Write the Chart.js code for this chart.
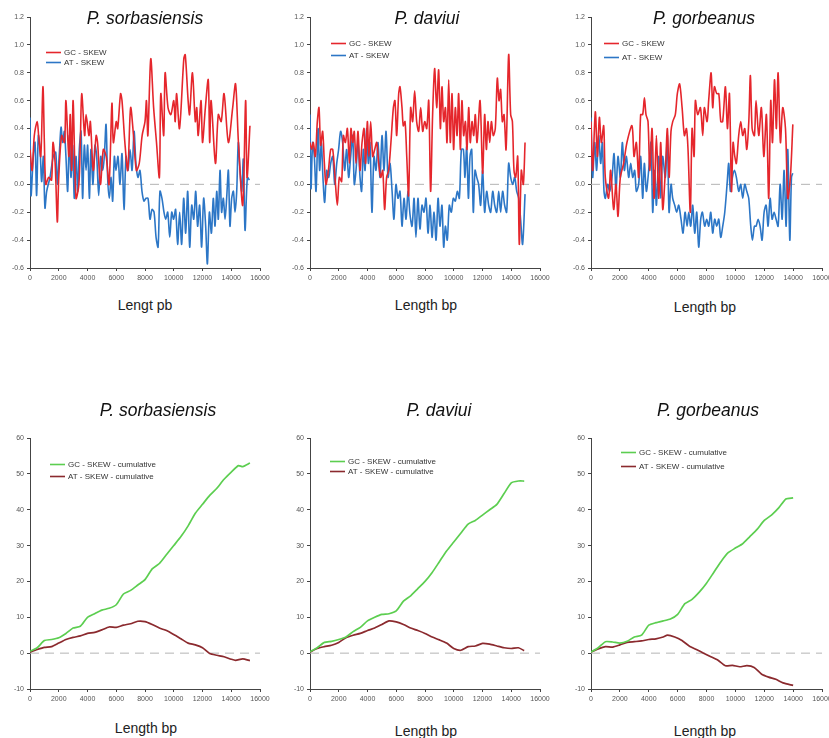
<!DOCTYPE html>
<html>
<head>
<meta charset="utf-8">
<script src="https://cdn.jsdelivr.net/npm/chart.js@4.4.1/dist/chart.umd.min.js"></script>
<style>
  html, body { margin: 0; padding: 0; background: #ffffff; }
  body { width: 829px; height: 738px; position: relative; overflow: hidden; font-family: "Liberation Sans", Arial, sans-serif; }
  canvas { position: absolute; }
  .ttl { position: absolute; transform: translate(-50%, -50%); font-style: italic; font-size: 17.5px; color: #111; white-space: nowrap; }
  .axt { position: absolute; transform: translate(-50%, -50%); font-size: 14px; color: #222; white-space: nowrap; }
</style>
</head>
<body>
<canvas id="c1" width="277" height="290" style="left:0px;top:0px"></canvas>
<canvas id="c2" width="277" height="290" style="left:280px;top:0px"></canvas>
<canvas id="c3" width="278" height="290" style="left:561px;top:0px"></canvas>
<canvas id="c4" width="277" height="291" style="left:0px;top:420px"></canvas>
<canvas id="c5" width="277" height="291" style="left:280px;top:420px"></canvas>
<canvas id="c6" width="278" height="291" style="left:561px;top:420px"></canvas>

<div class="ttl" style="left:145px;top:18px">P. sorbasiensis</div>
<div class="ttl" style="left:427px;top:18px">P. daviui</div>
<div class="ttl" style="left:704px;top:18px">P. gorbeanus</div>
<div class="ttl" style="left:158px;top:410px">P. sorbasiensis</div>
<div class="ttl" style="left:439px;top:410px">P. daviui</div>
<div class="ttl" style="left:708px;top:410px">P. gorbeanus</div>

<div class="axt" style="left:145px;top:305px">Lengt pb</div>
<div class="axt" style="left:426px;top:305px">Length bp</div>
<div class="axt" style="left:705px;top:307px">Length bp</div>
<div class="axt" style="left:146px;top:728px">Length bp</div>
<div class="axt" style="left:426px;top:731px">Length bp</div>
<div class="axt" style="left:705px;top:731px">Length bp</div>

<script>
// ---------------- axis settings ----------------
const xMin = 0, xMax = 16000, xStep = 2000;
const skewMin = -0.6, skewMax = 1.2, skewStep = 0.2;
const cumMin = -10, cumMax = 60, cumStep = 10;

// ---------------- P. sorbasiensis : skew ----------------
const sorbGcPos = [0,150,300,500,600,750,900,1000,1100,1300,1500,1600,1750,1900,2000,2200,2400,2500,2700,2800,2900,3000,3200,3400,3500,3600,3800,3900,4100,4200,4400,4600,4700,4900,5100,5300,5500,5700,5800,6000,6100,6300,6400,6600,6800,7000,7200,7400,7600,7800,8000,8100,8200,8400,8600,8800,9000,9100,9300,9400,9600,9800,10000,10100,10200,10400,10700,10800,11000,11100,11300,11500,11600,11700,11900,12000,12200,12400,12500,12600,12900,13100,13300,13500,13800,14100,14300,14500,14800,15000,15100,15300];
const sorbGcVal = [0.25,0.1,0.35,0.45,0.35,0.2,0.7,0.3,0.0,0.05,0.03,0.3,0.15,-0.27,0.05,0.35,0.3,0.6,0.2,0.5,0.1,0.6,-0.1,0.0,0.3,0.65,0.35,0.5,0.35,0.45,0.1,0.35,0.3,0.0,0.25,0.2,0.0,0.58,0.3,0.45,0.4,0.65,0.6,0.3,0.1,0.55,0.35,0.1,0.15,0.35,0.45,0.6,0.35,0.9,0.55,0.3,0.05,0.65,0.35,0.8,0.55,0.5,0.6,0.45,0.65,0.4,0.9,0.93,0.6,0.5,0.8,0.45,0.55,0.35,0.6,0.3,0.55,0.75,0.3,0.6,0.15,0.5,0.45,0.65,0.3,0.55,0.72,0.3,-0.15,0.6,0.05,0.42];
const sorbAtPos = [0,70,230,350,460,580,700,810,930,1040,1160,1390,1620,1790,1900,2040,2160,2270,2390,2500,2620,2740,2850,2970,3080,3200,3320,3430,3550,3660,3780,3900,4010,4130,4240,4380,4520,4640,4780,4920,5060,5170,5290,5400,5520,5640,5750,5870,5980,6120,6260,6400,6540,6680,6820,6960,7100,7240,7370,7510,7650,7790,7930,8070,8210,8350,8490,8630,8770,8910,9040,9180,9320,9440,9580,9720,9860,9990,10130,10270,10410,10550,10690,10830,10970,11110,11250,11390,11530,11660,11800,11940,12080,12220,12340,12480,12620,12750,12870,12990,13100,13220,13330,13450,13570,13680,13800,13910,14030,14150,14260,14380,14490,14610,14730,14840,14960,15120,15260];
const sorbAtVal = [0.48,-0.08,0.2,0.3,-0.08,0.35,0.25,0.02,0.2,-0.17,-0.05,0.05,0.2,0.23,0.0,0.22,0.41,0.3,0.38,0.2,-0.05,0.35,0.05,0.28,-0.1,0.2,-0.05,0.25,0.38,-0.1,0.28,0.1,0.28,-0.1,0.25,0.0,0.28,0.2,-0.08,0.2,0.1,0.2,0.43,0.05,-0.1,0.05,-0.12,0.2,0.1,0.2,0.0,0.22,-0.18,0.2,0.1,0.25,0.1,0.38,0.15,0.05,0.1,-0.05,-0.12,-0.1,-0.1,-0.25,-0.18,-0.2,-0.38,-0.45,-0.05,-0.1,-0.2,-0.25,-0.2,-0.38,-0.2,-0.25,-0.18,-0.43,-0.2,-0.43,-0.1,-0.35,-0.05,-0.45,-0.15,-0.25,-0.05,-0.3,-0.15,-0.45,-0.1,-0.3,-0.57,-0.2,-0.35,-0.1,-0.3,-0.05,-0.25,0.1,-0.2,-0.1,-0.25,-0.1,0.1,-0.3,-0.1,-0.05,-0.2,-0.05,0.3,0.1,-0.05,0.18,-0.33,0.05,0.03];

// ---------------- P. daviui : skew ----------------
const davGcPos = [0,115,230,370,510,625,740,880,1000,1110,1280,1440,1580,1740,1900,2040,2200,2320,2460,2600,2740,2850,2970,3080,3200,3340,3480,3620,3760,3870,3990,4100,4220,4360,4500,4640,4780,4920,5060,5190,5330,5470,5630,5800,5910,6030,6170,6260,6400,6490,6610,6730,6860,7000,7140,7280,7420,7560,7700,7840,7980,8120,8260,8390,8530,8670,8810,8950,9070,9180,9300,9420,9530,9650,9760,9880,9990,10110,10230,10340,10460,10570,10690,10810,10920,11040,11150,11270,11390,11500,11620,11830,12010,12150,12270,12380,12500,12620,12750,12890,13030,13150,13260,13380,13500,13640,13820,13960,14080,14190,14310,14450,14560,14700,14840,14960];
const davGcVal = [0.3,0.25,0.3,0.2,0.45,0.55,0.28,0.38,0.15,0.0,0.1,0.25,0.25,0.05,-0.15,0.05,0.02,0.35,0.3,0.4,0.15,0.4,0.3,0.38,0.15,0.38,0.1,0.3,0.4,0.15,0.45,0.2,0.45,0.2,0.25,0.3,0.15,0.05,0.1,-0.18,0.05,0.1,0.3,0.55,0.6,0.35,0.65,0.7,0.55,0.42,0.45,0.2,-0.08,0.55,0.45,0.67,0.45,0.38,0.55,0.38,0.45,0.4,0.6,-0.05,0.5,0.83,0.55,0.82,0.4,0.7,0.45,0.55,0.3,0.75,0.3,0.65,0.25,0.55,0.35,0.65,0.25,0.6,0.35,0.45,0.25,0.55,0.3,0.45,0.35,0.5,0.3,0.6,0.08,0.5,0.25,0.45,0.3,0.45,0.35,0.4,0.76,0.6,0.68,0.45,0.5,0.25,0.93,0.5,0.45,0.1,0.05,0.2,-0.43,0.1,0.0,0.3];
const davAtPos = [0,70,185,300,420,560,670,790,900,1020,1160,1300,1440,1580,1720,1860,1990,2130,2270,2410,2550,2690,2830,2970,3080,3200,3340,3480,3590,3710,3830,3940,4060,4170,4310,4450,4590,4730,4870,5010,5150,5290,5430,5570,5710,5840,5980,6120,6260,6400,6540,6680,6820,6960,7100,7240,7370,7510,7650,7790,7930,8070,8210,8350,8490,8630,8770,8910,9040,9180,9300,9420,9550,9690,9830,9970,10110,10250,10390,10530,10670,10780,10900,11020,11130,11250,11360,11480,11600,11730,11870,12010,12150,12290,12430,12570,12710,12850,12990,13130,13260,13400,13540,13680,13820,13960,14100,14240,14380,14520,14650,14790,14960];
const davAtVal = [0.5,-0.03,0.3,0.2,-0.05,0.4,0.1,0.3,0.05,-0.13,0.1,0.05,0.15,0.2,0.0,0.15,0.25,0.38,0.3,0.1,0.25,0.05,0.2,0.35,0.0,0.1,0.3,0.05,-0.05,0.25,0.1,0.4,0.15,0.3,-0.2,0.2,0.1,0.3,0.05,0.35,0.1,0.38,0.05,0.15,-0.05,-0.25,0.0,-0.1,-0.05,-0.3,-0.1,-0.25,-0.05,-0.22,-0.3,-0.1,-0.38,-0.1,-0.32,-0.15,-0.2,-0.1,-0.35,-0.15,-0.38,-0.2,-0.4,-0.1,-0.3,-0.15,-0.45,-0.3,-0.4,-0.15,-0.2,-0.1,-0.12,-0.05,-0.1,0.25,0.25,0.05,0.27,-0.1,0.2,0.25,-0.2,0.1,0.05,0.0,-0.15,0.1,-0.2,-0.05,-0.15,-0.2,-0.05,-0.15,-0.2,-0.05,-0.2,-0.05,-0.15,-0.2,0.15,0.05,0.0,0.05,-0.05,-0.1,-0.25,-0.43,-0.07];

// ---------------- P. gorbeanus : skew ----------------
const gorGcPos = [0,115,300,440,580,715,880,990,1220,1360,1570,1730,1870,2030,2260,2490,2840,2980,3140,3300,3440,3580,3700,3810,3950,4070,4230,4370,4530,4690,4830,4970,5150,5290,5410,5540,5660,5840,5980,6140,6310,6470,6610,6720,6880,7000,7140,7230,7390,7580,7740,7850,8040,8150,8320,8430,8550,8710,8850,8990,9120,9310,9450,9590,9730,9840,9960,10070,10230,10370,10510,10650,10790,10930,11040,11160,11320,11430,11620,11800,11970,12150,12310,12450,12570,12710,12840,12960,13120,13280,13470,13630,13810,13980];
const gorGcVal = [0.45,0.1,0.52,0.2,0.48,0.3,0.42,0.05,-0.1,0.1,-0.18,0.0,-0.23,0.05,0.15,0.3,0.42,0.2,0.3,0.05,0.5,0.5,0.62,0.5,0.45,0.1,0.4,-0.1,0.35,-0.1,0.3,-0.18,0.1,0.4,0.05,0.38,0.45,0.5,0.65,0.72,0.55,0.35,0.4,0.25,-0.2,0.4,0.2,0.6,0.5,0.55,0.35,0.55,0.45,0.6,0.8,0.55,0.7,0.65,0.65,0.45,0.45,0.7,0.4,0.65,-0.05,0.3,0.2,0.15,0.35,0.45,0.35,0.4,0.25,0.45,0.78,0.4,0.35,0.6,0.35,0.55,0.2,0.5,-0.1,0.6,0.3,0.75,0.4,0.8,0.3,0.55,0.4,-0.1,0.05,0.43];
const gorAtPos = [0,115,255,390,530,670,785,900,995,1155,1295,1455,1595,1730,1870,2035,2170,2310,2450,2610,2750,2890,3025,3140,3300,3440,3580,3695,3835,3995,4160,4275,4410,4530,4690,4830,4965,5150,5290,5405,5545,5660,5800,5935,6075,6235,6375,6515,6655,6770,6905,7045,7185,7325,7460,7600,7715,7875,8015,8155,8295,8430,8570,8710,8850,8985,9125,9265,9425,9540,9655,9795,9935,10070,10235,10370,10510,10650,10790,10925,11065,11180,11320,11435,11575,11710,11850,11990,12130,12265,12405,12545,12680,12820,12960,13100,13240,13375,13515,13630,13770,13885,13975];
const gorAtVal = [0.48,0.05,0.3,0.1,0.35,0.15,0.3,-0.05,-0.1,0.0,-0.05,0.05,0.22,-0.05,0.2,0.05,0.3,0.1,0.2,0.05,0.15,0.05,0.1,-0.05,0.0,0.2,-0.1,0.15,-0.05,0.1,0.3,-0.2,0.1,-0.15,0.2,-0.1,0.2,0.05,0.35,-0.2,0.0,-0.1,-0.15,-0.2,-0.15,-0.25,-0.35,-0.2,-0.3,-0.2,-0.3,-0.15,-0.35,-0.2,-0.45,-0.25,-0.2,-0.3,-0.25,-0.3,-0.2,-0.35,-0.25,-0.3,-0.25,-0.38,-0.3,-0.2,0.0,0.15,-0.05,0.05,0.1,0.05,-0.05,0.0,-0.1,0.0,-0.05,-0.1,-0.3,-0.4,-0.3,-0.3,-0.25,-0.3,-0.4,-0.2,-0.15,-0.3,-0.1,-0.25,-0.2,-0.25,-0.3,0.0,-0.25,0.1,-0.3,0.25,-0.4,0.05,0.08];

// ---------------- cumulative skew ----------------
const sorbCumGcPos = [0,500,1000,1500,2000,2500,3000,3500,4000,4500,5000,5500,6000,6500,7000,7500,8000,8500,9000,9500,10000,10500,11000,11500,12000,12500,13000,13500,14000,14500,14800,15300];
const sorbCumGcVal = [0.5,1.5,3.5,3.8,4.3,5.5,7.0,7.5,10,11,12,12.5,13.5,16.5,17.5,19,20.5,23.5,25,27.5,30,32.5,35.5,39,41.5,44,46,48.5,50.5,52.3,52,53];
const sorbCumAtPos = [0,500,1000,1500,2000,2500,3000,3500,4000,4500,5000,5500,6000,6500,7000,7500,8000,8500,9000,9500,10000,10500,11000,11500,12000,12500,13000,13500,14000,14300,14800,15300];
const sorbCumAtVal = [0.3,1,1.6,1.8,2.8,3.8,4.4,4.8,5.5,5.8,6.5,7.3,7.2,7.8,8.2,8.9,8.8,8.0,7.0,6.3,5.2,4.0,2.8,2.3,1.5,-0.1,-0.6,-1.0,-1.7,-2.0,-1.6,-2.1];

const davCumPos = [0,500,1000,1500,2000,2500,3000,3500,4000,4500,5000,5500,6000,6500,7000,7500,8000,8500,9000,9500,10000,10500,11000,11500,12000,12500,13000,13500,14000,14500,14900];
const davCumGcVal = [0.4,1.5,3.0,3.3,3.8,4.5,6.0,7.2,9.0,10,10.8,11.0,11.8,14.5,16,18,20,22.5,25.5,28.5,31,33.5,36,37,38.5,40,41.5,44.5,47.5,48,48];
const davCumAtVal = [0.3,1.3,1.8,2.2,3.0,4.3,5.0,5.5,6.3,7.0,8.0,9.0,8.7,8.0,7.0,6.3,5.5,4.5,3.7,2.8,1.3,0.8,1.8,2.0,2.7,2.5,2.0,1.5,1.3,1.5,0.7];

const gorCumGcPos = [0,500,1000,1500,2000,2500,3000,3500,4000,4500,5000,5500,6000,6500,7000,7500,8000,8500,9000,9500,10000,10500,11000,11500,12000,12500,13000,13500,14000];
const gorCumGcVal = [0.3,1.5,3.2,3.1,2.8,3.3,4.5,5.0,7.8,8.5,9.0,9.5,10.8,13.8,15.0,17,19.5,22.5,25.5,28.0,29.3,30.5,32.5,34.5,37,38.5,40.5,43,43.3];
const gorCumAtPos = [0,500,1000,1500,2000,2500,3000,3500,4000,4500,5000,5300,5800,6300,6800,7300,7800,8300,8800,9300,9800,10300,10800,11300,11800,12300,12800,13300,14000];
const gorCumAtVal = [0.3,1.2,1.8,1.7,2.3,3.0,3.2,3.4,3.8,4.0,4.5,5.0,4.5,3.5,2.0,1.0,0.0,-1.0,-2.0,-3.5,-3.4,-3.8,-3.5,-4.0,-5.8,-6.7,-7.3,-8.3,-9.0];

// ---------------- labels & colours ----------------
const skewLabels = ['GC - SKEW', 'AT - SKEW'];
const cumLabels = ['GC - SKEW - cumulative', 'AT - SKEW - cumulative'];
const colGC = '#e5262c', colAT = '#2c76c6', colGCc = '#5cce50', colATc = '#8b2a2e';

// ---------------- helpers ----------------
const FONT = '"Liberation Sans", Arial, sans-serif';
function pts(pos, val) {
  const n = Math.min(pos.length, val.length);
  const out = [];
  for (let i = 0; i < n; i++) out.push({ x: pos[i], y: val[i] });
  return out;
}

const inLegend = {
  id: 'inLegend',
  afterDatasetsDraw(chart, args, opts) {
    const ctx = chart.ctx, a = chart.chartArea;
    ctx.save();
    ctx.font = '8px ' + FONT;
    ctx.textBaseline = 'middle';
    let i = 0;
    chart.data.datasets.forEach(ds => {
      if (!ds.label) return;
      const y = Math.round(a.top + opts.dy + i * opts.sp) + 0.5;
      const x = a.left + opts.dx;
      ctx.strokeStyle = ds.borderColor;
      ctx.lineWidth = 1.6;
      ctx.beginPath(); ctx.moveTo(x, y); ctx.lineTo(x + 15, y); ctx.stroke();
      ctx.fillStyle = '#333';
      ctx.fillText(ds.label, x + 18, y);
      i++;
    });
    ctx.restore();
  }
};

function makeChart(id, series, yMin, yMax, yStep, yFmt, padTop, leg, lw) {
  const datasets = series.map((s, k) => ({
    label: s.label, data: s.data, borderColor: s.color, borderWidth: lw,
    pointRadius: 0, tension: s.tension, fill: false, order: k + 1
  }));
  datasets.push({
    label: '', data: [{ x: xMin, y: 0 }, { x: xMax, y: 0 }],
    borderColor: '#b4b4b4', borderWidth: 1, borderDash: [9, 6], pointRadius: 0, order: 20
  });
  const axisCommon = {
    grid: { display: true, drawOnChartArea: false, drawTicks: true, tickLength: 3, color: '#444' },
    border: { display: true, color: '#444', width: 1 }
  };
  new Chart(document.getElementById(id), {
    type: 'line',
    data: { datasets },
    plugins: [inLegend],
    options: {
      responsive: false, animation: false, devicePixelRatio: 1,
      layout: { padding: { left: 0, right: 17, top: padTop, bottom: 0 } },
      scales: {
        x: Object.assign({
          type: 'linear', min: xMin, max: xMax,
          ticks: { stepSize: xStep, autoSkip: false, maxRotation: 0, color: '#555', padding: 3,
                   font: { size: 7, family: FONT }, callback: v => String(v) },
          afterFit: s => { s.height = 22; }
        }, axisCommon),
        y: Object.assign({
          type: 'linear', min: yMin, max: yMax,
          ticks: { stepSize: yStep, color: '#555', padding: 3, font: { size: 7, family: FONT }, callback: yFmt },
          afterFit: s => { s.width = 30; }
        }, axisCommon)
      },
      plugins: { legend: { display: false }, tooltip: { enabled: false }, inLegend: leg }
    }
  });
}

const fmtSkew = v => Number(v).toFixed(1);
const fmtCum = v => String(Math.round(v));

makeChart('c1', [
  { label: skewLabels[0], data: pts(sorbGcPos, sorbGcVal), color: colGC, tension: 0.3 },
  { label: skewLabels[1], data: pts(sorbAtPos, sorbAtVal), color: colAT, tension: 0.3 }
], skewMin, skewMax, skewStep, fmtSkew, 17, { dx: 16, dy: 35, sp: 10 }, 1.6);

makeChart('c2', [
  { label: skewLabels[0], data: pts(davGcPos, davGcVal), color: colGC, tension: 0.3 },
  { label: skewLabels[1], data: pts(davAtPos, davAtVal), color: colAT, tension: 0.3 }
], skewMin, skewMax, skewStep, fmtSkew, 17, { dx: 21, dy: 26, sp: 12 }, 1.6);

makeChart('c3', [
  { label: skewLabels[0], data: pts(gorGcPos, gorGcVal), color: colGC, tension: 0.3 },
  { label: skewLabels[1], data: pts(gorAtPos, gorAtVal), color: colAT, tension: 0.3 }
], skewMin, skewMax, skewStep, fmtSkew, 17, { dx: 13, dy: 26, sp: 14 }, 1.6);

makeChart('c4', [
  { label: cumLabels[0], data: pts(sorbCumGcPos, sorbCumGcVal), color: colGCc, tension: 0.2 },
  { label: cumLabels[1], data: pts(sorbCumAtPos, sorbCumAtVal), color: colATc, tension: 0.2 }
], cumMin, cumMax, cumStep, fmtCum, 18, { dx: 20, dy: 26, sp: 12 }, 1.7);

makeChart('c5', [
  { label: cumLabels[0], data: pts(davCumPos, davCumGcVal), color: colGCc, tension: 0.2 },
  { label: cumLabels[1], data: pts(davCumPos, davCumAtVal), color: colATc, tension: 0.2 }
], cumMin, cumMax, cumStep, fmtCum, 18, { dx: 20, dy: 23, sp: 10 }, 1.7);

makeChart('c6', [
  { label: cumLabels[0], data: pts(gorCumGcPos, gorCumGcVal), color: colGCc, tension: 0.2 },
  { label: cumLabels[1], data: pts(gorCumAtPos, gorCumAtVal), color: colATc, tension: 0.2 }
], cumMin, cumMax, cumStep, fmtCum, 18, { dx: 30, dy: 14, sp: 14 }, 1.7);
</script>
</body>
</html>
